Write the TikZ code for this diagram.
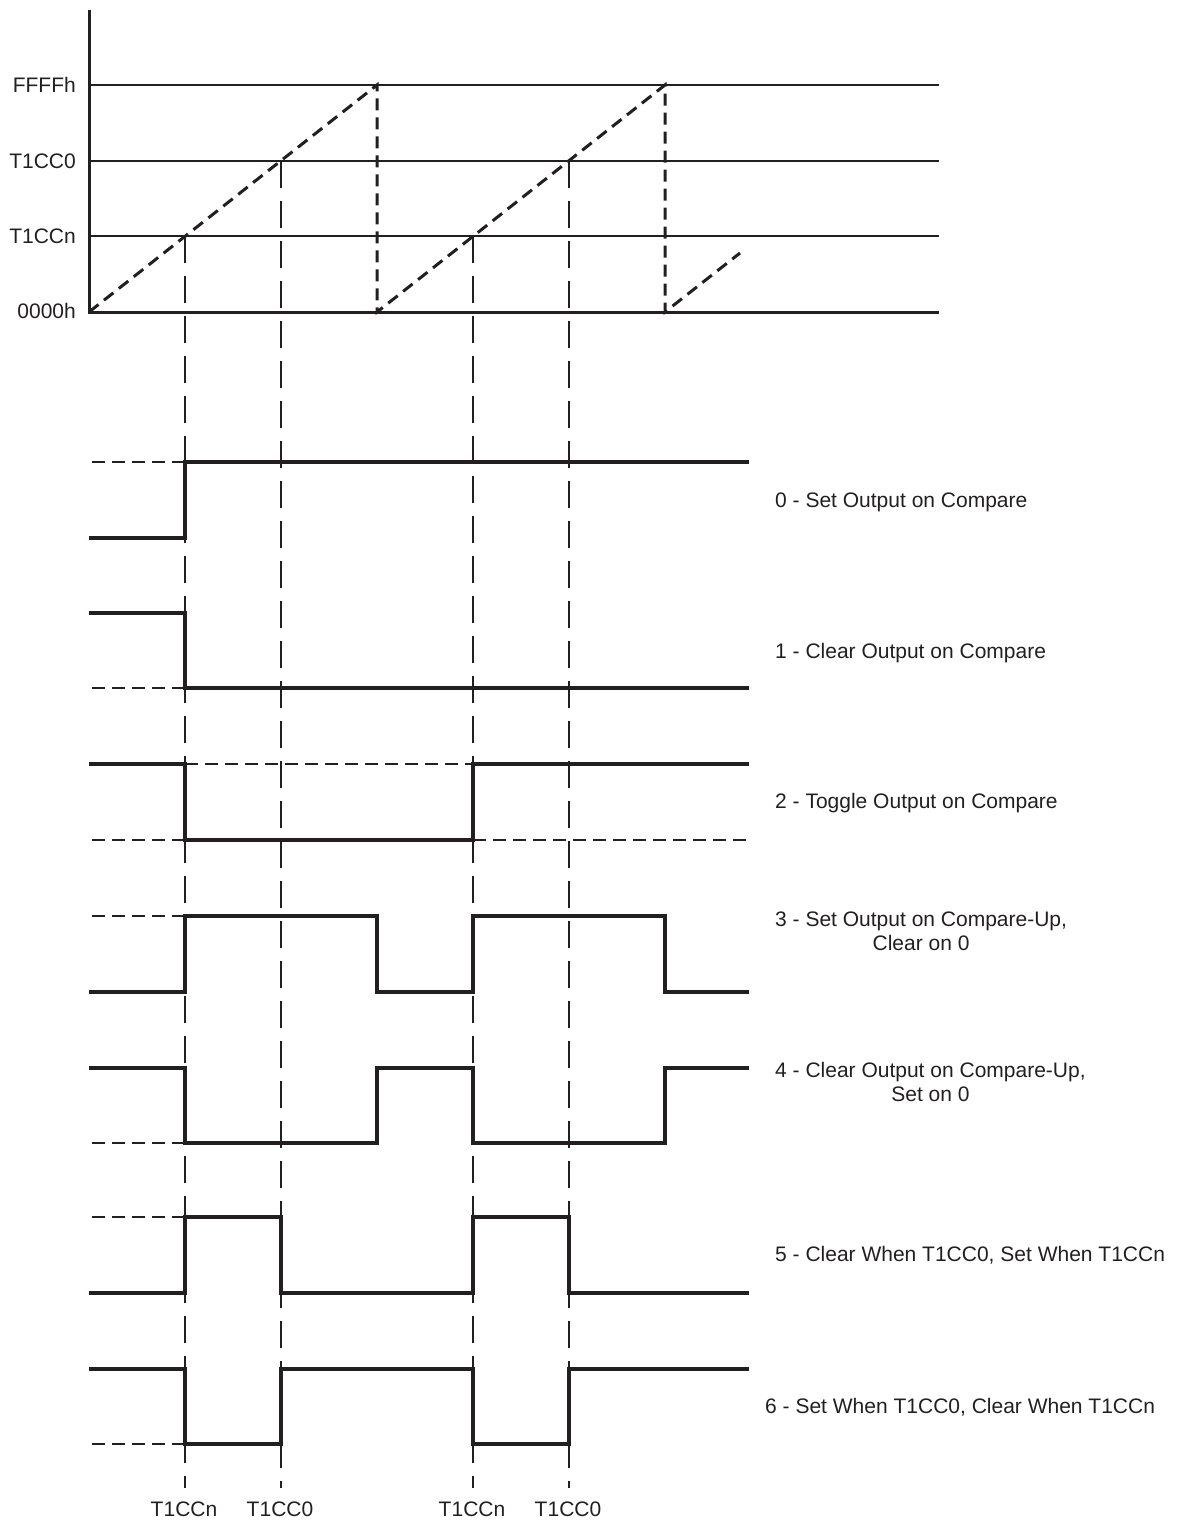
\documentclass[tikz,border=0pt]{standalone}
\usepackage{fontspec}
\setmainfont{Liberation Sans}
\definecolor{ink}{RGB}{35,31,32}
\begin{document}
\begin{tikzpicture}[x=1pt,y=-1pt,
  every node/.style={inner sep=0pt,text=ink,font=\fontsize{21}{24.3}\selectfont},
  axisline/.style={draw=ink,line width=3pt},
  levelline/.style={draw=ink,line width=1.3pt},
  ramp/.style={draw=ink,line width=3pt,dash pattern=on 12pt off 7pt},
  guide/.style={draw=ink,line width=1.2pt,dash pattern=on 27pt off 13pt},
  refline/.style={draw=ink,line width=1.2pt,dash pattern=on 13pt off 7pt},
  wave/.style={draw=ink,line width=3.3pt,line join=miter},
  modelabel/.style={anchor=base west,align=center}]
\useasboundingbox (0,0) rectangle (1178,1523);

% ---- counter plot ----
\coordinate (ytop) at (89,10);
\coordinate (origin) at (89,312);
\coordinate (xend) at (939,312);
\coordinate (maxL) at (89,85);   \coordinate (maxR) at (939,85);
\coordinate (ccoL) at (89,161);  \coordinate (ccoR) at (939,161);
\coordinate (ccnL) at (89,236);  \coordinate (ccnR) at (939,236);

\node[anchor=base east] (lblmax) at (76,92.6) {FFFFh};
\node[anchor=base east] (lblcc0) at (76,168.3) {T1CC0};
\node[anchor=base east] (lblccn) at (76,243.3) {T1CCn};
\node[anchor=base east] (lblzero) at (76,318.5) {0000h};

\draw[levelline] (maxL) -- (maxR);
\draw[levelline] (ccoL) -- (ccoR);
\draw[levelline] (ccnL) -- (ccnR);

% crossing points of the ramp with T1CCn and T1CC0
\coordinate (n1) at (185,236);
\coordinate (z1) at (281,161);
\coordinate (n2) at (473,236);
\coordinate (z2) at (569,161);
\coordinate (n1b) at (185,1488);
\coordinate (z1b) at (281,1488);
\coordinate (n2b) at (473,1488);
\coordinate (z2b) at (569,1488);

% ramp (sawtooth)
\coordinate (p1) at (377,85);  \coordinate (q1) at (377,312);
\coordinate (p2) at (665,85);  \coordinate (q2) at (665,312);
\coordinate (p3) at (740,253);
\draw[ramp] (origin) -- (p1) -- (q1) -- (p2) -- (q2) -- (p3);

% guide lines down through all outputs
\draw[guide] (n1) -- (n1b);
\draw[guide] (z1) -- (z1b);
\draw[guide] (n2) -- (n2b);
\draw[guide] (z2) -- (z2b);

\draw[axisline] (ytop) -- (89,313.5);
\draw[axisline] (87.5,312) -- (xend);

% ---- reference levels ----
\draw[refline] (92,462) -- (185,462);
\draw[refline] (92,688) -- (185,688);
\draw[refline] (185,764) -- (473,764);
\draw[refline] (92,840) -- (185,840);
\draw[refline] (473,840) -- (749,840);
\draw[refline] (92,916) -- (185,916);
\draw[refline] (92,1143) -- (185,1143);
\draw[refline] (92,1217) -- (185,1217);
\draw[refline] (92,1444) -- (185,1444);

% ---- output waveforms ----
\draw[wave] (89,538) -| (185,462) -- (749,462);
\draw[wave] (89,613) -| (185,688) -- (749,688);
\draw[wave] (89,764) -| (185,840) -| (473,764) -- (749,764);
\draw[wave] (89,992) -| (185,916) -| (377,992) -| (473,916) -| (665,992) -- (749,992);
\draw[wave] (89,1068) -| (185,1143) -| (377,1068) -| (473,1143) -| (665,1068) -- (749,1068);
\draw[wave] (89,1293) -| (185,1217) -| (281,1293) -| (473,1217) -| (569,1293) -- (749,1293);
\draw[wave] (89,1369) -| (185,1444) -| (281,1369) -| (473,1444) -| (569,1369) -- (749,1369);

% ---- mode labels ----
\node[modelabel] (m0) at (775,507.3) {0 - Set Output on Compare};
\node[modelabel] (m1) at (775,658.3) {1 - Clear Output on Compare};
\node[modelabel] (m2) at (775,808.3) {2 - Toggle Output on Compare};
\node[modelabel] (m3) at (775,950.7) {3 - Set Output on Compare-Up,\\Clear on 0};
\node[modelabel] (m4) at (775,1101.7) {4 - Clear Output on Compare-Up,\\Set on 0};
\node[modelabel] (m5) at (775,1261.7) {5 - Clear When T1CC0, Set When T1CCn};
\node[modelabel] (m6) at (765,1413.5) {6 - Set When T1CC0, Clear When T1CCn};

% ---- time labels ----
\node[anchor=base] (t1) at (184,1516.5) {T1CCn};
\node[anchor=base] (t2) at (280,1516.5) {T1CC0};
\node[anchor=base] (t3) at (472,1516.5) {T1CCn};
\node[anchor=base] (t4) at (568,1516.5) {T1CC0};
\end{tikzpicture}
\end{document}
